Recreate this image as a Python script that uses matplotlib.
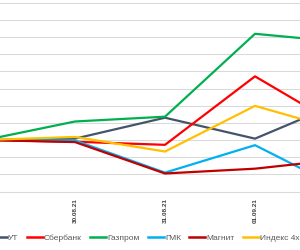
import matplotlib.pyplot as plt
from matplotlib.lines import Line2D

# daily change, %
dates = ["27.08.21", "30.08.21", "31.08.21", "01.09.21", "02.09.21"]
ut = [0, 0.08, 1.30, 0.08, 2.29]
sber = [0, -0.10, -0.28, 3.71, 0.63]
gazprom = [0, 1.08, 1.36, 6.19, 5.70]
gmk = [0, -0.03, -1.90, -0.30, -2.95]
magnit = [0, -0.12, -1.95, -1.67, -1.10]
index4 = [0, 0.18, -0.67, 1.99, 0.50]

names = ["УТ", "Сбербанк", "Газпром", "ГМК", "Магнит", "Индекс 4х бумаг"]
colors = ["#44546A", "#FF0000", "#00B050", "#00B0F0", "#C00000", "#FFC000"]

plt.rcParams['font.family'] = ['Liberation Sans', 'DejaVu Sans']

fig = plt.figure(figsize=(3, 2.5), dpi=100)
ax = fig.add_axes([0, 0.234, 1, 0.766])

x = list(range(len(dates)))
for vals, c in zip([ut, sber, gazprom, gmk, magnit, index4], colors):
    ax.plot(x, vals, color=c, lw=1.6, solid_joinstyle='round', solid_capstyle='round')

ax.set_xticks(x)
ax.set_xticklabels(dates, rotation=90, fontsize=4.6, fontweight='bold', color='#404040')
ax.tick_params(axis='x', length=0, pad=5)

# the chart is a crop: first and last day sit outside the picture
ax.set_xlim(1 - 75 / 90, 3.5)
ax.set_ylim(-3, 8.16)
ax.set_yticks(range(-3, 9))
ax.yaxis.grid(True, color="#D9D9D9", lw=0.75)
ax.set_axisbelow(True)
ax.tick_params(axis='y', length=0, labelleft=False)

for s in ["top", "left", "right"]:
    ax.spines[s].set_visible(False)
ax.spines["bottom"].set_color("#D9D9D9")
ax.spines["bottom"].set_linewidth(0.75)

handles = [Line2D([0], [0], color=c, lw=1.8) for c in colors]
leg = fig.legend(handles, names, loc='center left', bbox_to_anchor=(-0.03, 0.048),
                 ncol=6, frameon=False, fontsize=6.0, handlelength=1.9,
                 handletextpad=0.15, columnspacing=1.0, borderaxespad=0, borderpad=0)
for t in leg.get_texts():
    t.set_color("#595959")

fig.savefig("out.png", dpi=100)
